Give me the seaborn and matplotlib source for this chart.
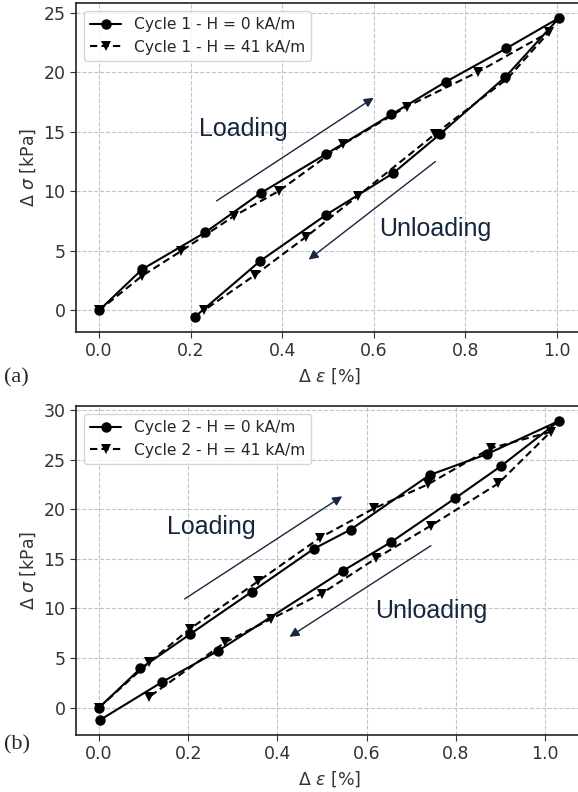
import pandas as pd
import matplotlib
matplotlib.use("Agg")
import matplotlib.pyplot as plt
import seaborn as sns

# Cycle 1 (panel a): loading branch then unloading branch
c1_h0_strain = [0.0, 0.094, 0.232, 0.353, 0.497, 0.639, 0.758, 0.890, 1.005,
                0.888, 0.745, 0.642, 0.497, 0.352, 0.209]
c1_h0_stress = [0.0, 3.45, 6.55, 9.85, 13.15, 16.45, 19.2, 22.0, 24.55,
                19.6, 14.8, 11.5, 8.05, 4.15, -0.55]
c1_h41_strain = [0.0, 0.094, 0.180, 0.296, 0.394, 0.533, 0.672, 0.827, 0.983,
                 0.892, 0.734, 0.565, 0.453, 0.340, 0.229]
c1_h41_stress = [0.0, 2.9, 5.0, 7.95, 10.05, 13.95, 17.1, 20.0, 23.35,
                 19.45, 14.8, 9.6, 6.2, 2.95, 0.0]

# Cycle 2 (panel b)
c2_h0_strain = [0.0, 0.093, 0.204, 0.343, 0.481, 0.564, 0.741, 0.869, 1.031,
                0.901, 0.798, 0.655, 0.547, 0.266, 0.142, 0.002]
c2_h0_stress = [0.0, 3.95, 7.4, 11.7, 16.0, 17.95, 23.45, 25.55, 28.9,
                24.35, 21.1, 16.7, 13.8, 5.7, 2.6, -1.25]
c2_h41_strain = [0.0, 0.113, 0.204, 0.357, 0.496, 0.617, 0.737, 0.878, 1.012,
                 0.895, 0.744, 0.621, 0.499, 0.386, 0.283, 0.113]
c2_h41_stress = [0.0, 4.6, 7.95, 12.75, 17.15, 20.1, 22.5, 26.15, 27.8,
                 22.6, 18.35, 15.05, 11.5, 8.95, 6.6, 1.1]

navy = "#16263f"


def make_frame(cycle, s0, y0, s41, y41):
    lab0 = f"Cycle {cycle} - H = 0 kA/m"
    lab41 = f"Cycle {cycle} - H = 41 kA/m"
    d0 = pd.DataFrame({"strain": s0, "stress": y0, "series": lab0})
    d41 = pd.DataFrame({"strain": s41, "stress": y41, "series": lab41})
    return pd.concat([d0, d41], ignore_index=True), lab0, lab41


def draw_panel(ax, df, lab0, lab41, yticks, load, unload):
    sns.lineplot(data=df, x="strain", y="stress", style="series",
                 markers={lab0: "o", lab41: "v"},
                 dashes={lab0: "", lab41: (3.5, 2)},
                 sort=False, estimator=None, color="black",
                 markersize=7.5, linewidth=1.5, markeredgewidth=0, ax=ax)
    ax.grid(True, linestyle="--", color="#c4c4c4", linewidth=0.8)
    ax.set_axisbelow(True)
    ax.set_xticks([0.0, 0.2, 0.4, 0.6, 0.8, 1.0])
    ax.set_yticks(yticks)
    ax.tick_params(labelsize=12.5, colors="#333333", length=4)
    for sp in ax.spines.values():
        sp.set_color("#222222")
        sp.set_linewidth(1.2)
    ax.set_xlabel(r"$\Delta$ $\varepsilon$ [%]", fontsize=12.5, color="#333333")
    ax.set_ylabel(r"$\Delta$ $\sigma$ [kPa]", fontsize=12.5, color="#333333")
    sns.move_legend(ax, "upper left", title=None, fontsize=11.2,
                    frameon=True, handlelength=2.0)

    # loading / unloading annotations
    (lx0, ly0, lx1, ly1, ltx, lty) = load
    (ux0, uy0, ux1, uy1, utx, uty) = unload
    arrow = dict(arrowstyle="-|>", color=navy, lw=1.0, mutation_scale=14,
                 shrinkA=0, shrinkB=0)
    ax.annotate("", xy=(lx1, ly1), xytext=(lx0, ly0), arrowprops=arrow)
    ax.annotate("", xy=(ux1, uy1), xytext=(ux0, uy0), arrowprops=arrow)
    ax.text(ltx, lty, "Loading", fontsize=18, color=navy,
            family="Liberation Sans", va="center")
    ax.text(utx, uty, "Unloading", fontsize=18, color=navy,
            family="Liberation Sans", va="center")


sns.set_style("ticks")
fig = plt.figure(figsize=(5.78, 7.92), dpi=100)
W, H = 578, 792

ax1 = fig.add_axes([76 / W, 1 - 332 / H, 506 / W, 329 / H])
ax2 = fig.add_axes([76 / W, 1 - 735 / H, 506 / W, 329 / H])

df1, a0, a41 = make_frame(1, c1_h0_strain, c1_h0_stress, c1_h41_strain, c1_h41_stress)
df2, b0, b41 = make_frame(2, c2_h0_strain, c2_h0_stress, c2_h41_strain, c2_h41_stress)

draw_panel(ax1, df1, a0, a41, [0, 5, 10, 15, 20, 25],
           (0.257, 9.2, 0.60, 17.85, 0.218, 15.2),
           (0.735, 12.5, 0.458, 4.27, 0.612, 6.8))
draw_panel(ax2, df2, b0, b41, [0, 5, 10, 15, 20, 25, 30],
           (0.192, 10.96, 0.545, 21.3, 0.152, 18.2),
           (0.744, 16.33, 0.427, 7.14, 0.619, 9.72))

fig.text(4 / W, 1 - 378 / H, "(a)", family="Liberation Serif", fontsize=16,
         va="center", ha="left")
fig.text(4 / W, 1 - 745 / H, "(b)", family="Liberation Serif", fontsize=16,
         va="center", ha="left")

fig.savefig("out.png", dpi=100)
